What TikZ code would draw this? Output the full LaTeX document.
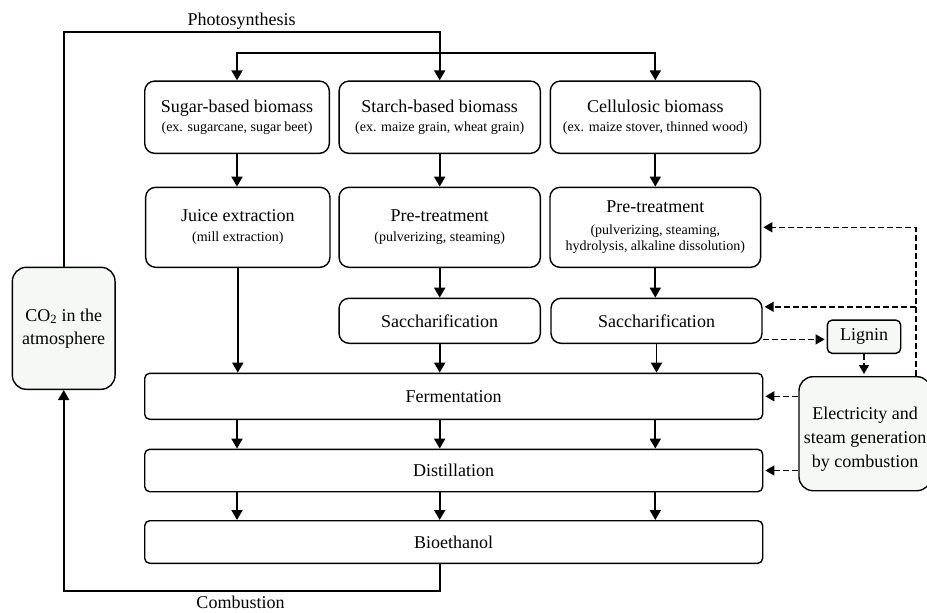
\documentclass[tikz,border=0pt]{standalone}
\usepackage{fontspec}
\setmainfont{Liberation Serif}
\usetikzlibrary{arrows.meta}
\definecolor{pale-fill}{RGB}{246,248,246}
\newcommand{\mainsize}{\fontsize{18}{21}\selectfont}
\newcommand{\subsize}{\fontsize{14}{16.5}\selectfont}

\begin{document}
\begin{tikzpicture}[x=1pt, y=-1pt,
  box/.style={draw, line width=1.4pt, rounded corners=10pt, align=center,
    inner sep=0pt, font=\mainsize},
  flat/.style={box, rounded corners=5pt},
  side/.style={box, fill=pale-fill, rounded corners=14pt},
  arr/.style={line width=1.9pt, -{Triangle[length=10pt,width=11pt]}},
  darr/.style={line width=1.6pt, dash pattern=on 6pt off 3pt,
    -{Triangle[length=9pt,width=10pt]}, shorten >=2pt}]

\path[use as bounding box, clip] (0,0) rectangle (927,613);

% Row 0: feedstocks
\node[box, minimum width=184.6pt, minimum height=72.3pt] (sugar) at (237, 117.2)
  {Sugar-based biomass\\[-1.5pt]\subsize (ex. sugarcane, sugar beet)};
\node[box, minimum width=201.3pt, minimum height=72.3pt] (starch) at (439.7, 117.2)
  {Starch-based biomass\\[-1.5pt]\subsize (ex. maize grain, wheat grain)};
\node[box, minimum width=210pt, minimum height=72.3pt] (cell) at (655.3, 117.2)
  {Cellulosic biomass\\[-1.5pt]\subsize (ex. maize stover, thinned wood)};
% Row 1: pre-treatment
\node[box, minimum width=184.3pt, minimum height=80pt] (juice) at (237.8, 227.3)
  {Juice extraction\\[-1pt]\subsize (mill extraction)};
\node[box, minimum width=201.3pt, minimum height=80pt] (spre) at (439.7, 227.3)
  {Pre-treatment\\[-1pt]\subsize (pulverizing, steaming)};
\node[box, minimum width=210.7pt, minimum height=80pt] (cpre) at (655.3, 227.3)
  {Pre-treatment\\[0.5pt]\subsize (pulverizing, steaming,\\[-4.5pt]
   \subsize hydrolysis, alkaline dissolution)};
% Row 2: saccharification
\node[box, minimum width=201.3pt, minimum height=45pt] (ssac) at (439.7, 320.8)
  {Saccharification};
\node[box, minimum width=211pt, minimum height=45pt] (csac) at (656.5, 320.8)
  {Saccharification};
% Rows 3--5
\node[flat, minimum width=618pt, minimum height=46pt] (ferm) at (453.7, 396.3)
  {Fermentation};
\node[flat, minimum width=618pt, minimum height=42.4pt] (dist) at (453.7, 470.5)
  {Distillation};
\node[flat, minimum width=618pt, minimum height=42.6pt] (bio) at (453.7, 542)
  {Bioethanol};
% Side boxes
\node[side, minimum width=102.7pt, minimum height=122pt,
  font=\fontsize{18}{23}\selectfont] (co2) at (63.7, 328.3)
  {CO\textsubscript{2} in the\\atmosphere};
\node[flat, fill=pale-fill, minimum width=73.4pt, minimum height=33.3pt] (lig) at (864, 336.7)
  {Lignin};
\node[side, minimum width=132pt, minimum height=114pt,
  font=\fontsize{18}{24}\selectfont] (elec) at (865, 433.7)
  {\mbox{}\\[0pt]Electricity and\\steam generation\\by combustion};
% Labels
\node[font=\mainsize, inner sep=1pt] (photo) at (241.7, 20.7) {Photosynthesis};
\node[font=\mainsize, inner sep=1pt] (comb) at (240.5, 602.5) {Combustion};

% Carbon cycle
\draw[arr] (co2.north) |- ([yshift=48.3pt]starch.north) -- (starch.north);
\draw[arr] ([yshift=27.7pt]starch.north) -| (sugar.north);
\draw[arr] ([yshift=27.7pt]starch.north) -| (cell.north);
\draw[arr] (bio.south -| starch.south) -- ++(0, 26.7) -| (co2.south);

% Process flow
\draw[arr] (sugar.south) -- (sugar.south |- juice.north);
\draw[arr] (starch.south) -- (starch.south |- spre.north);
\draw[arr] (cell.south) -- (cell.south |- cpre.north);
\draw[arr] (juice.south) -- (juice.south |- ferm.north);
\draw[arr] (spre.south) -- (spre.south |- ssac.north);
\draw[arr] (cpre.south) -- (cpre.south |- csac.north);
\draw[arr] (ssac.south) -- (ssac.south |- ferm.north);
\draw[arr] (csac.south) -- (csac.south |- ferm.north);
\draw[arr] (ferm.south -| sugar.south) -- (dist.north -| sugar.south);
\draw[arr] (ferm.south -| starch.south) -- (dist.north -| starch.south);
\draw[arr] (ferm.south -| cell.south) -- (dist.north -| cell.south);
\draw[arr] (dist.south -| sugar.south) -- (bio.north -| sugar.south);
\draw[arr] (dist.south -| starch.south) -- (bio.north -| starch.south);
\draw[arr] (dist.south -| cell.south) -- (bio.north -| cell.south);

% Energy recovery
\coordinate (etap) at ([xshift=50.7pt]elec.north);
\coordinate (stap) at ([yshift=14pt]csac.east);
\draw[darr] (etap) |- (cpre.east);
\draw[darr] (etap |- stap) -- (stap);
\draw[darr] ([yshift=-2.7pt]csac.east |- lig.west) -- ([yshift=-2.7pt]lig.west);
\draw[darr] (lig.south) -- (lig.south |- elec.north);
\draw[darr] (elec.west |- ferm.east) -- (ferm.east);
\draw[darr] (elec.west |- dist.east) -- (dist.east);

\end{tikzpicture}
\end{document}
